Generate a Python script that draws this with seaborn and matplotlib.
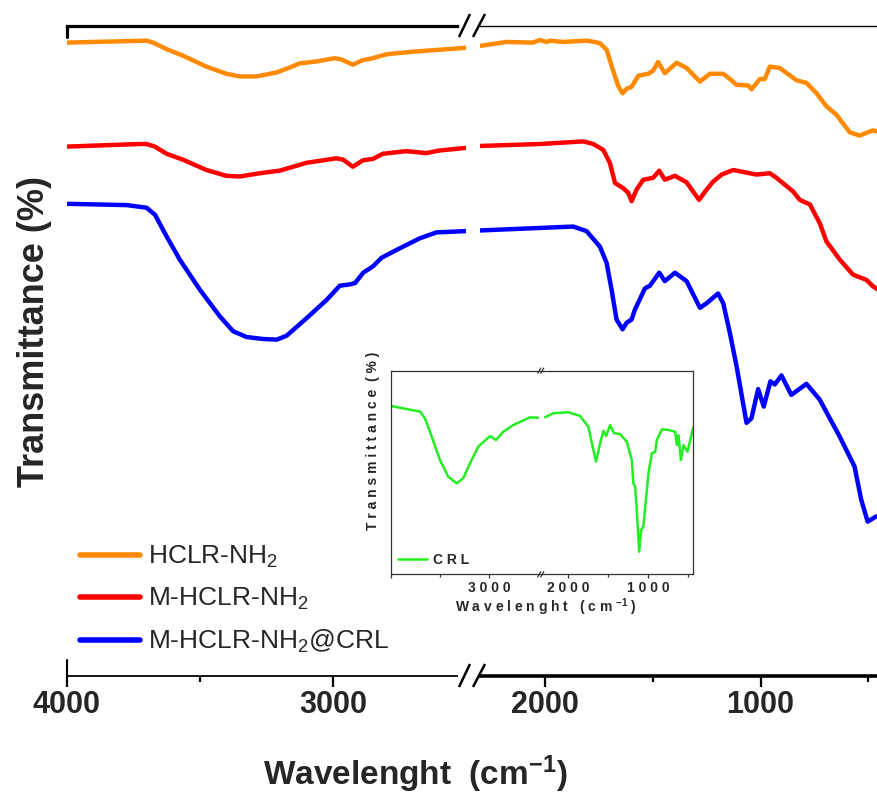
import matplotlib
matplotlib.use("Agg")
import matplotlib.pyplot as plt
from matplotlib.lines import Line2D
import pandas as pd
import seaborn as sns

# ---------------------------------------------------------------
# FTIR readings: wavenumber (cm-1) and transmittance (a.u.)
# Each sample is split into a high (4000-2500) and a low (2300-455) window.
# ---------------------------------------------------------------
hclr_hi_wn = [4000, 3700, 3676, 3650, 3625, 3564, 3475, 3400, 3350, 3287, 3212, 3160, 3125,
              3062, 2993, 2968, 2925, 2888, 2850, 2800, 2700, 2600, 2500]
hclr_hi_t = [97.4, 97.7, 97.4, 96.9, 96.4, 95.4, 93.7, 92.6, 92.2, 92.2, 92.8, 93.6, 94.2,
             94.5, 95.0, 94.8, 94.0, 94.7, 95.0, 95.6, 96.0, 96.3, 96.6]
hclr_lo_wn = [2300, 2178, 2056, 2023, 1992, 1977, 1917, 1807, 1770, 1745, 1714, 1685,
              1660, 1640, 1621, 1598, 1567, 1521, 1498, 1475, 1444, 1389, 1343,
              1281, 1235, 1173, 1142, 1111, 1057, 1042, 1003, 980, 957, 911, 833,
              787, 740, 694, 648, 586, 540, 478, 456]
hclr_lo_t = [96.9, 97.5, 97.4, 97.8, 97.5, 97.7, 97.5, 97.7, 97.5, 97.3, 96.3, 93.2,
             90.7, 89.6, 90.3, 90.6, 92.3, 92.6, 93.1, 94.4, 92.7, 94.3, 93.5,
             91.4, 92.6, 92.6, 91.8, 90.9, 90.8, 90.2, 91.8, 91.8, 93.7, 93.5, 91.6,
             91.2, 89.6, 87.6, 86.3, 83.6, 83.1, 83.9, 83.7]

mhclr_hi_wn = [4000, 3725, 3700, 3669, 3625, 3564, 3475, 3400, 3350, 3275, 3200,
               3100, 2987, 2962, 2925, 2887, 2850, 2812, 2724, 2649, 2600, 2500]
mhclr_hi_t = [81.4, 81.8, 81.8, 81.4, 80.3, 79.4, 77.8, 76.9, 76.8, 77.3, 77.7,
              78.9, 79.6, 79.4, 78.3, 79.3, 79.5, 80.3, 80.7, 80.4, 80.8, 81.2]
mhclr_lo_wn = [2300, 2023, 1822, 1776, 1730, 1699, 1675, 1637, 1614, 1598, 1575,
               1544, 1498, 1470, 1444, 1397, 1343, 1285, 1250, 1220, 1180, 1127, 1019,
               957, 926, 849, 818, 771, 725, 694, 632, 571, 509, 478, 456]
mhclr_lo_t = [81.5, 81.8, 82.2, 81.8, 80.9, 78.9, 75.8, 75.0, 74.3, 73.0, 74.8,
              76.3, 76.6, 77.7, 76.3, 76.9, 75.9, 73.2, 74.8, 76.0, 77.1, 77.8, 77.1,
              77.3, 76.6, 74.5, 73.2, 72.5, 69.6, 66.8, 64.0, 61.7, 60.9, 59.9, 59.4]

crl_mhclr_hi_wn = [4000, 3775, 3700, 3668, 3625, 3575, 3500, 3425, 3375, 3324,
                   3262, 3211, 3174, 3099, 3024, 2974, 2936, 2917, 2886, 2849,
                   2817, 2761, 2673, 2611, 2500]
crl_mhclr_hi_t = [72.6, 72.4, 72.0, 70.9, 67.6, 64.0, 59.4, 55.3, 53.0, 52.1,
                  51.8, 51.7, 52.3, 55.0, 57.8, 60.0, 60.2, 60.4, 62.0, 63.0,
                  64.3, 65.5, 67.3, 68.2, 68.4]
crl_mhclr_lo_wn = [2300, 1869, 1807, 1745, 1714, 1691, 1668, 1640, 1621, 1598,
                   1583, 1536, 1513, 1470, 1444, 1397, 1343, 1281, 1250, 1197,
                   1173, 1142, 1111, 1065, 1042, 1011, 985, 954, 934, 903, 857,
                   787, 726, 633, 564, 533, 503, 464]
crl_mhclr_lo_t = [68.5, 69.1, 68.4, 66.0, 63.5, 59.4, 54.8, 53.3, 54.3, 54.8,
                  56.3, 59.6, 60.0, 62.0, 60.7, 62.0, 60.7, 56.6, 57.3, 58.8,
                  57.3, 52.7, 47.6, 38.9, 39.6, 44.1, 41.4, 45.3, 44.8, 46.2, 43.2,
                  44.9, 42.5, 36.8, 32.2, 27.1, 23.7, 24.5]

crl_hi_wn = [4000, 3703, 3652, 3584, 3500, 3416, 3331, 3264, 3196, 3112, 2993,
             2932, 2858, 2757, 2587, 2503]
crl_hi_t = [82.7, 79.9, 76.6, 67.6, 56.1, 47.9, 44.7, 47.2, 54.5, 62.7, 67.9,
            66.0, 70.0, 73.3, 77.1, 76.9]
crl_lo_wn = [2291, 2188, 2000, 1854, 1750, 1688, 1654, 1604, 1562, 1529, 1479,
             1429, 1354, 1270, 1208, 1188, 1166, 1145, 1116, 1091, 1063, 1000,
             958, 916, 895, 832, 750, 666, 645, 625, 595, 562, 512, 440]
crl_lo_t = [77.1, 79.1, 79.6, 77.8, 72.5, 61.1, 55.3, 64.3, 70.5, 67.9, 73.3,
            69.3, 68.9, 65.1, 56.1, 44.7, 43.0, 31.6, 11.1, 21.8, 23.4, 49.6,
            59.4, 60.2, 66.0, 71.2, 70.9, 70.0, 63.5, 68.4, 56.1, 63.5, 60.2, 72.2]

series_labels = ["HCLR-NH$_2$", "M-HCLR-NH$_2$", "M-HCLR-NH$_2$@CRL"]
series_colors = ["#FF8A00", "#FF0000", "#0000FF"]
crl_label = "C R L"
crl_color = "#22EE22"

main_hi_ticks = [4000, 3000]
main_hi_minor = [3500]
main_lo_ticks = [2000, 1000]
main_lo_minor = [1500, 500]

# ---------------------------------------------------------------
sns.set_theme(style="white")
plt.rcParams["font.family"] = ["Liberation Sans", "DejaVu Sans"]
plt.rcParams["mathtext.fontset"] = "custom"
plt.rcParams["mathtext.rm"] = "Liberation Sans"
plt.rcParams["mathtext.default"] = "regular"

W, H = 878, 796
fig = plt.figure(figsize=(W / 100, H / 100), dpi=100, facecolor="white")


def rect(x0, y0, x1, y1):
    """Axes rectangle from pixel corners (top-left origin)."""
    return [x0 / W, 1 - y1 / H, (x1 - x0) / W, (y1 - y0) / H]


def fpt(x, y):
    return x / W, 1 - y / H


def fig_line(xs, ys, lw, color="black"):
    fig.add_artist(Line2D([x / W for x in xs], [1 - y / H for y in ys],
                          lw=lw, color=color, solid_capstyle="butt"))


ax_hi = fig.add_axes(rect(66.7, 25.7, 466.0, 675.7))
ax_lo = fig.add_axes(rect(480.3, 25.7, 878.0, 675.7))

hi_sets = [(hclr_hi_wn, hclr_hi_t), (mhclr_hi_wn, mhclr_hi_t),
           (crl_mhclr_hi_wn, crl_mhclr_hi_t)]
lo_sets = [(hclr_lo_wn, hclr_lo_t), (mhclr_lo_wn, mhclr_lo_t),
           (crl_mhclr_lo_wn, crl_mhclr_lo_t)]

for (wn, t), col, lab in zip(hi_sets, series_colors, series_labels):
    df = pd.DataFrame({"wn": wn, "t": t})
    sns.lineplot(data=df, x="wn", y="t", ax=ax_hi, color=col, lw=3.2,
                 sort=False, estimator=None, label=lab, legend=False,
                 solid_joinstyle="round")
for (wn, t), col in zip(lo_sets, series_colors):
    df = pd.DataFrame({"wn": wn, "t": t})
    sns.lineplot(data=df, x="wn", y="t", ax=ax_lo, color=col, lw=3.2,
                 sort=False, estimator=None, legend=False,
                 solid_joinstyle="round")

ax_hi.set_xlim(4000, 2500)
ax_lo.set_xlim(2300, 455)
for ax in (ax_hi, ax_lo):
    ax.set_ylim(0, 100)
    ax.set_facecolor("none")
    ax.set_yticks([])
    ax.set_xlabel("")
    ax.set_ylabel("")
    ax.spines["left"].set_visible(False)
    ax.spines["right"].set_visible(False)
    for s in ("top", "bottom"):
        ax.spines[s].set_color("black")
    ax.tick_params(axis="x", which="major", direction="out", length=8,
                   width=1.6, color="black", pad=2, labelsize=22,
                   bottom=True, top=False)
    ax.tick_params(axis="x", which="minor", direction="out", length=4.5,
                   width=1.6, color="black", bottom=True, top=False)

ax_hi.spines["top"].set_linewidth(2.3)
ax_hi.spines["bottom"].set_linewidth(1.3)
ax_lo.spines["top"].set_linewidth(1.0)
ax_lo.spines["bottom"].set_linewidth(2.6)
ax_hi.spines["top"].set_bounds(2535, 4000)
ax_hi.spines["bottom"].set_bounds(2535, 4000)

ax_hi.set_xticks(main_hi_ticks)
ax_hi.set_xticks(main_hi_minor, minor=True)
ax_hi.set_xticklabels([str(v) for v in main_hi_ticks], fontweight="bold", fontsize=22)
ax_lo.set_xticks(main_lo_ticks)
ax_lo.set_xticks(main_lo_minor, minor=True)
ax_lo.set_xticklabels([str(v) for v in main_lo_ticks], fontweight="bold", fontsize=22)

# corner stubs at the 4000 end of the frame
ax_hi.axvline(4000, ymin=0, ymax=16 / 650, color="black", lw=1.5, clip_on=False)
ax_hi.axvline(4000, ymin=1 - 11 / 650, ymax=1, color="black", lw=2.3, clip_on=False)

# axis-break marks
for yb, yt in ((37, 14), (687, 664)):
    fig_line([459, 470], [yb, yt], 1.8)
    fig_line([473, 485], [yb, yt], 1.8)

# labels
fig.text(*fpt(35, 332), "Transmittance (%)", rotation=90, ha="center",
         va="center", fontsize=26, fontweight="bold")
fig.text(*fpt(415, 774), "Wavelenght  (cm$^{-1}$)", ha="center", va="center",
         fontsize=24, fontweight="bold")

handles = ax_hi.get_lines()[:3]
ax_hi.legend(handles, series_labels, loc="upper left",
             bbox_to_anchor=fpt(80, 544), bbox_transform=fig.transFigure,
             frameon=False, fontsize=19, handlelength=2.27, handletextpad=0.3,
             labelspacing=0.6, borderpad=0, borderaxespad=0)
for h in ax_hi.get_legend().legend_handles:
    h.set_linewidth(4)

# ---------------- inset: CRL ----------------
in_hi = fig.add_axes(rect(390.7, 370.7, 538.6, 574.3))
in_lo = fig.add_axes(rect(544.3, 370.7, 693.3, 574.3))

sns.lineplot(x=crl_hi_wn, y=crl_hi_t, ax=in_hi, color=crl_color, lw=1.8,
             sort=False, estimator=None, legend=False)
sns.lineplot(x=crl_lo_wn, y=crl_lo_t, ax=in_lo, color=crl_color, lw=1.8,
             sort=False, estimator=None, legend=False)

in_hi.set_xlim(4000, 2500)
in_lo.set_xlim(2300, 440)
for ax in (in_hi, in_lo):
    ax.set_ylim(0, 100)
    ax.set_facecolor("white")
    ax.set_yticks([])
    ax.set_xlabel("")
    ax.set_ylabel("")
    for s in ax.spines.values():
        s.set_color("#333333")
        s.set_linewidth(0.9)
    ax.tick_params(axis="x", which="major", direction="out", length=3,
                   width=0.9, color="#333333", pad=2, bottom=True, top=False)
    ax.tick_params(axis="x", which="minor", direction="out", length=2,
                   width=0.9, color="#333333", bottom=True, top=False)
in_hi.spines["right"].set_visible(False)
in_lo.spines["left"].set_visible(False)

in_hi.set_xticks([4000, 3000])
in_hi.set_xticks([3500], minor=True)
in_hi.set_xticklabels(["", "3 0 0 0"], fontsize=10, fontweight="bold")
in_lo.set_xticks([2000, 1000])
in_lo.set_xticks([1500, 500], minor=True)
in_lo.set_xticklabels(["2 0 0 0", "1 0 0 0"], fontsize=10, fontweight="bold")

# bridge the frame across the inset break, then the break marks
fig_line([538.6, 544.3], [370.7, 370.7], 0.9, "#333333")
fig_line([538.6, 544.3], [574.3, 574.3], 0.9, "#333333")
for yc in (370.7, 574.3):
    fig_line([537.5, 541], [yc + 3, yc - 3], 0.9, "#333333")
    fig_line([540.5, 544], [yc + 3, yc - 3], 0.9, "#333333")

fig.text(*fpt(373, 441), "T r a n s m i t t a n c e  ( % )", rotation=90,
         ha="center", va="center", fontsize=10, fontweight="bold")
fig.text(*fpt(546, 607), "W a v e l e n g h t   ( c m $^{-1}$ )", ha="center",
         va="center", fontsize=10, fontweight="bold")

in_hi.legend(in_hi.get_lines()[:1], [crl_label], loc="center left",
             bbox_to_anchor=fpt(398, 560), bbox_transform=fig.transFigure,
             frameon=False, prop={"size": 10, "weight": "bold"},
             handlelength=2.06, handletextpad=0.45, borderpad=0, borderaxespad=0)

fig.savefig("out.png", dpi=100, facecolor="white")
